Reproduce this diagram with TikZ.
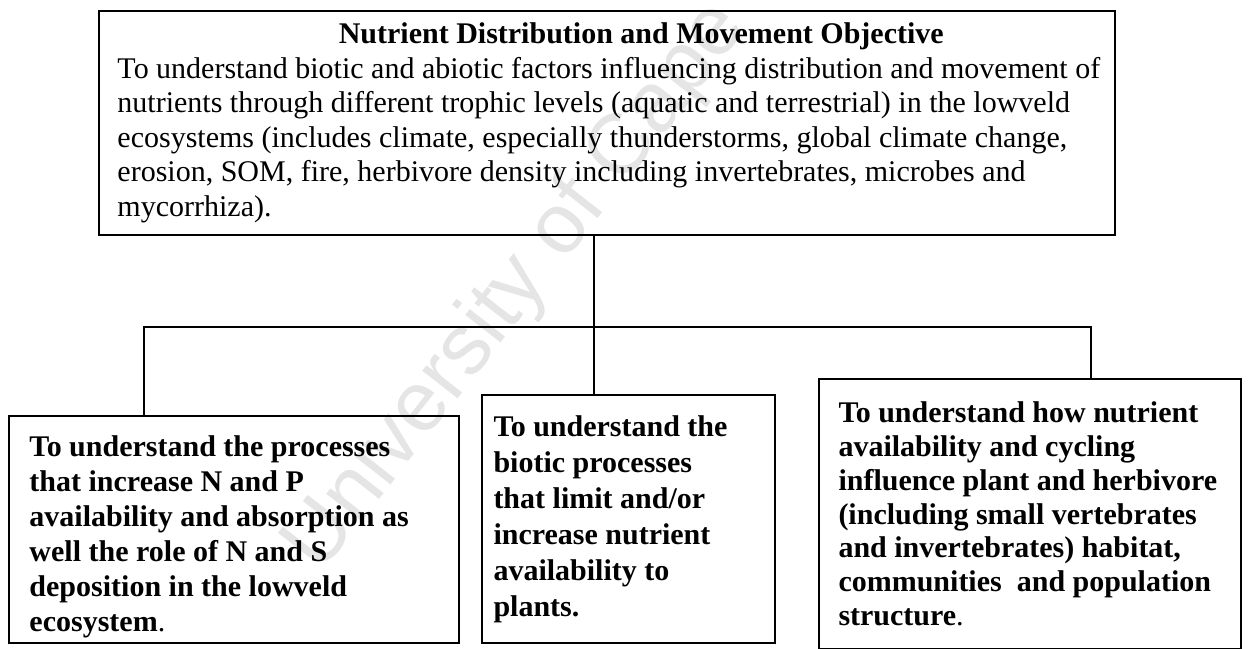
\documentclass[tikz,border=0pt]{standalone}
\usepackage{fontspec}
\setmainfont{Liberation Serif}
\newfontfamily\stampfont{Liberation Sans}
\usetikzlibrary{positioning}

\begin{document}
\begin{tikzpicture}[
    x=0.4pt, y=-0.4pt,
    frame/.style={draw, line width=0.8pt, inner sep=0pt},
    body/.style={inner sep=0pt, align=left, anchor=west,
      font=\fontsize{12}{13.8}\selectfont},
    aim/.style={body, font=\bfseries\fontsize{12}{13.8}\selectfont},
    link/.style={line width=0.8pt},
    stamp/.style={text=black!10, font=\stampfont\fontsize{34}{34}\selectfont, inner sep=0pt},
  ]
  \useasboundingbox (0,0) rectangle (1248,648);

  % watermark
  \node[stamp, rotate=52, anchor=base west] (wm) at (320,575) {University of Cape Town};

  % objective box
  \node[frame, minimum width=406.4pt, minimum height=89.6pt] (top) at (607,123) {};
  \node[body, right=7.6pt of top.west] (toptext)
    {\makebox[394pt][c]{\hspace*{25pt}\bfseries Nutrient Distribution and Movement Objective}\\
     To understand biotic and abiotic factors influencing distribution and movement of\\
     nutrients through different trophic levels (aquatic and terrestrial) in the lowveld\\
     ecosystems (includes climate, especially thunderstorms, global climate change,\\
     erosion, SOM, fire, herbivore density including invertebrates, microbes and\\
     mycorrhiza).};

  % sub-objectives
  \node[frame, minimum width=180pt, minimum height=90.8pt] (lbox) at (234,529.5) {};
  \node[aim, right=8.4pt of lbox.west, yshift=-2.8pt, font=\bfseries\fontsize{12}{14}\selectfont] (ltext)
    {To understand the processes\\ that increase N and P\\ availability and absorption as\\
     well the role of N and S\\ deposition in the lowveld\\ ecosystem{\mdseries .}};

  \node[frame, minimum width=117.2pt, minimum height=99.2pt] (mbox) at (628.5,519) {};
  \node[aim, right=4.8pt of mbox.west, font=\bfseries\fontsize{12}{14.4}\selectfont] (mtext)
    {To understand the\\ biotic processes\\ that limit and/or\\ increase nutrient\\
     availability to\\ plants.};

  \node[frame, minimum width=168.8pt, minimum height=108pt] (rbox) at (1030,514) {};
  \node[aim, right=8pt of rbox.west, font=\bfseries\fontsize{12}{13.5}\selectfont] (rtext)
    {To understand how nutrient\\ availability and cycling\\ influence plant and herbivore\\
     (including small vertebrates\\ and invertebrates) habitat,\\
     communities\ \ and population\\ structure{\mdseries .}};

  % tree connectors
  \coordinate (hub) at (594,327);
  \coordinate (jl) at (144,327);
  \coordinate (jr) at (1091,327);
  \draw[link] (hub |- top.south) -- (hub |- mbox.north);
  \draw[link] (jl |- lbox.north) -- (jl) -- (jr) -- (jr |- rbox.north);
\end{tikzpicture}
\end{document}
